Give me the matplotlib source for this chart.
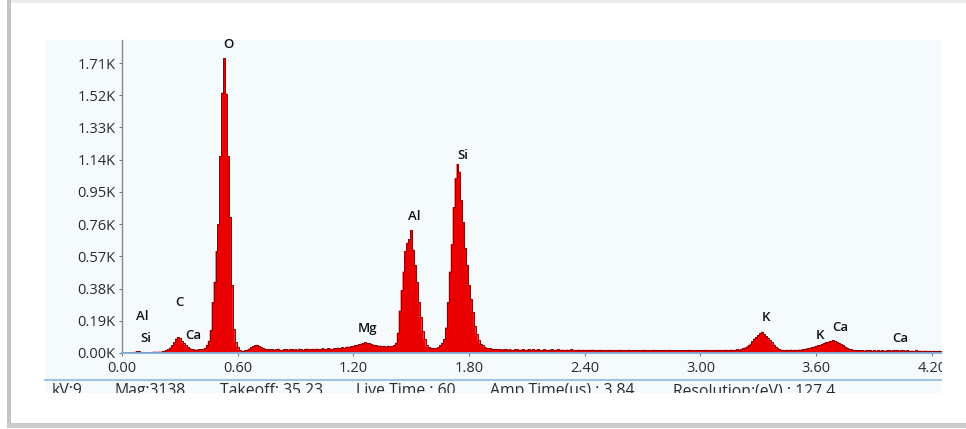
import numpy as np
import matplotlib
matplotlib.use("Agg")
import matplotlib.pyplot as plt
from matplotlib.patches import Rectangle

plt.rcParams['font.family'] = ['Open Sans', 'DejaVu Sans']

# EDS spectrum, counts per 0.01 keV channel, 0.00 .. 4.27 keV
counts = [
    2, 3, 2, 3, 4, 3, 5, 8, 12, 10,
    6, 5, 4, 5, 6, 5, 7, 8, 7, 8,
    8, 10, 12, 15, 22, 32, 45, 65, 85, 95,
    88, 72, 58, 45, 36, 30, 25, 22, 20, 20,
    21, 22, 25, 30, 48, 72, 135, 300, 420, 600,
    760, 1160, 1535, 1738, 1530, 1160, 800, 400, 140, 62,
    38, 18, 10, 12, 15, 20, 26, 33, 40, 46,
    48, 42, 35, 28, 25, 22, 20, 24, 21, 19,
    22, 25, 20, 18, 23, 21, 19, 24, 22, 20,
    23, 20, 25, 22, 19, 24, 26, 21, 23, 25,
    22, 26, 24, 21, 27, 25, 23, 28, 26, 24,
    29, 27, 31, 28, 33, 30, 34, 38, 36, 40,
    42, 45, 48, 52, 55, 58, 62, 60, 57, 55,
    50, 48, 45, 42, 44, 40, 42, 38, 43, 41,
    40, 45, 60, 120, 250, 370, 480, 600, 650, 670,
    725, 610, 520, 420, 300, 210, 130, 80, 45, 35,
    32, 30, 28, 30, 35, 45, 60, 80, 150, 300,
    480, 640, 860, 1030, 1115, 1070, 900, 770, 620, 520,
    400, 320, 240, 160, 110, 75, 55, 45, 38, 32,
    30, 28, 25, 23, 24, 21, 22, 20, 23, 21,
    19, 22, 20, 18, 21, 23, 19, 20, 22, 18,
    20, 21, 19, 22, 18, 20, 23, 19, 17, 21,
    19, 18, 20, 22, 17, 19, 21, 18, 20, 19,
    17, 20, 18, 21, 19, 16, 18, 20, 17, 19,
    18, 16, 19, 17, 20, 18, 15, 17, 19, 18,
    16, 18, 17, 19, 15, 17, 18, 16, 19, 17,
    18, 15, 17, 19, 16, 18, 17, 15, 18, 16,
    17, 19, 16, 18, 15, 17, 19, 16, 18, 17,
    15, 17, 18, 16, 19, 17, 15, 18, 16, 17,
    18, 16, 15, 17, 19, 16, 18, 17, 15, 18,
    16, 17, 19, 15, 18, 16, 17, 18, 16, 19,
    17, 18, 16, 19, 18, 17, 20, 18, 19, 21,
    20, 22, 28, 32, 38, 45, 55, 68, 85, 95,
    105, 115, 125, 110, 100, 90, 75, 62, 50, 38,
    28, 22, 20, 18, 17, 19, 18, 20, 17, 19,
    18, 20, 20, 22, 24, 26, 28, 31, 35, 38,
    42, 45, 48, 53, 58, 62, 65, 69, 72, 76,
    70, 66, 60, 52, 45, 38, 32, 26, 22, 19,
    18, 16, 17, 15, 16, 14, 17, 15, 16, 14,
    15, 13, 16, 14, 15, 13, 14, 16, 15, 14,
    16, 15, 17, 14, 16, 15, 13, 15, 14, 13,
    14, 12, 15, 13, 14, 12, 13, 14, 12, 13,
    12, 13, 11, 12, 13, 11, 12, 11,
]
channel_kev = 0.01

# element labels: name, energy (keV), height (counts)
peak_labels = ["O", "Si", "Al", "Mg", "K", "K", "Ca", "Ca", "Al", "Si", "C", "Ca"]
peak_x = [0.55, 1.77, 1.515, 1.276, 3.34, 3.62, 3.724, 4.035, 0.104, 0.124, 0.30, 0.368]
peak_y = [1822, 1162, 802, 147, 212, 106, 153, 83, 218, 83, 300, 106]

xticks = [0.0, 0.6, 1.2, 1.8, 2.4, 3.0, 3.6, 4.2]
yticks = [0, 190, 380, 570, 760, 950, 1140, 1330, 1520, 1710]

footer = ["kV:9", "Mag:3138", "Takeoff: 35.23", "Live Time : 60",
          "Amp Time(us) : 3.84", "Resolution:(eV) : 127.4"]
footer_px = [52, 115, 220, 356, 490, 673]

W, H = 966, 429
fig = plt.figure(figsize=(W / 100, H / 100), dpi=100)
fig.patch.set_facecolor("white")


def px_rect(x0, y0, x1, y1, **kw):
    # rectangle given in pixel coords (origin top-left)
    r = Rectangle((x0 / W, 1 - y1 / H), (x1 - x0) / W, (y1 - y0) / H,
                  transform=fig.transFigure, lw=0, **kw)
    fig.add_artist(r)
    return r


# card shadow strips, and the light panel
px_rect(7, 0, W, 3, facecolor="#ececec", zorder=-3)
px_rect(7, 0, 11, 428, facecolor="#c4c4c4", zorder=-3)
px_rect(7, 423, W, 428, facecolor="#cacaca", zorder=-3)
px_rect(45, 40, 943, 393, facecolor="#f5fafd", zorder=-1)

# main axes: left 122, right 943, top 40, bottom 353 (px)
ax = fig.add_axes([122 / W, 1 - 353 / H, (943 - 122) / W, (353 - 40) / H])
ax.patch.set_alpha(0)

energy = np.arange(len(counts)) * channel_kev
ax.fill_between(energy, counts, step="mid", facecolor="#ea0000", lw=0, zorder=2)
ax.step(energy, counts, where="mid", color="#8e0000", lw=0.7, zorder=3)

ax.set_xlim(0, (943 - 122) / 192.8)
ax.set_ylim(0, (353 - 40) * 5.897)

ax.set_xticks(xticks)
ax.set_xticklabels([f"{v:.2f}" for v in xticks])
ax.set_yticks(yticks)
ax.set_yticklabels([f"{v / 1000:.2f}K" for v in yticks])
ax.tick_params(axis="both", labelsize=10.5, labelcolor="#2b2b2b", length=2.5,
               width=0.8, color="#7a7a7a", pad=2)
ax.tick_params(axis="x", pad=3.5)

for s in ["top", "right"]:
    ax.spines[s].set_visible(False)
ax.spines["left"].set_color("#8a8a8a")
ax.spines["left"].set_linewidth(1.0)
ax.spines["bottom"].set_color("#7fb0e0")
ax.spines["bottom"].set_linewidth(1.3)
ax.spines["bottom"].set_zorder(4)

for name, xv, yv in zip(peak_labels, peak_x, peak_y):
    ax.text(xv, yv, name, ha="center", va="center", fontsize=9.5,
            fontweight="semibold", color="#111111", zorder=5)

# footer separator and info line
fig.add_artist(plt.Line2D([45 / W, 943 / W], [1 - 380 / H, 1 - 380 / H],
                          transform=fig.transFigure, color="#8db6e2", lw=1.2))
for s, xp in zip(footer, footer_px):
    fig.text(xp / W, 1 - 383 / H, s, ha="left", va="top", fontsize=11.3,
             color="#2b2b2b", zorder=3)

# panel edges cut the last tick label and the footer text
px_rect(942, 30, W, 400, facecolor="white", zorder=6)
px_rect(11, 393, W, 423, facecolor="white", zorder=6)

fig.savefig("out.png", dpi=100)
